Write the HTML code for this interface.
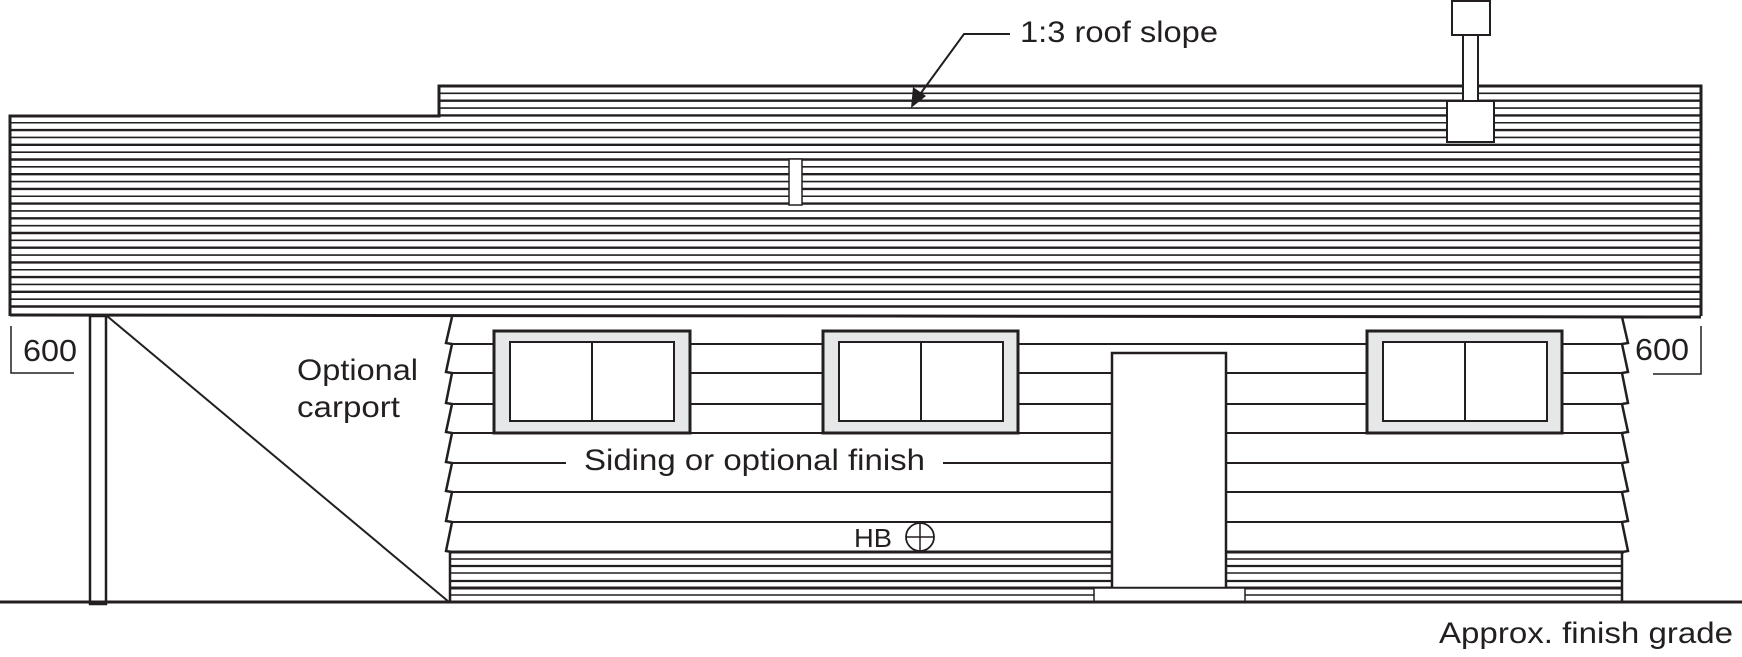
<!DOCTYPE html>
<html><head><meta charset="utf-8">
<style>
html,body{margin:0;padding:0;background:#fff;}
svg{display:block;}
text{font-family:"Liberation Sans",Arial,sans-serif;fill:#231f20;}
</style></head>
<body>
<svg width="1742" height="657" viewBox="0 0 1742 657" xmlns="http://www.w3.org/2000/svg">
<defs>
<clipPath id="roofclip"><polygon points="10,116 439,116 439,86 1701,86 1701,316 10,316"/></clipPath>
</defs>
<g clip-path="url(#roofclip)" stroke="#231f20">
<line x1="0" x2="1742" y1="86" y2="86" stroke-width="2.4"/>
<line x1="0" x2="1742" y1="93.35" y2="93.35" stroke-width="1.6"/>
<line x1="0" x2="1742" y1="100.7" y2="100.7" stroke-width="2.4"/>
<line x1="0" x2="1742" y1="108.05" y2="108.05" stroke-width="1.6"/>
<line x1="0" x2="1742" y1="115.4" y2="115.4" stroke-width="2.4"/>
<line x1="0" x2="1742" y1="122.75" y2="122.75" stroke-width="1.6"/>
<line x1="0" x2="1742" y1="130.1" y2="130.1" stroke-width="2.4"/>
<line x1="0" x2="1742" y1="137.45" y2="137.45" stroke-width="1.6"/>
<line x1="0" x2="1742" y1="144.8" y2="144.8" stroke-width="2.4"/>
<line x1="0" x2="1742" y1="152.15" y2="152.15" stroke-width="1.6"/>
<line x1="0" x2="1742" y1="159.5" y2="159.5" stroke-width="2.4"/>
<line x1="0" x2="1742" y1="166.85" y2="166.85" stroke-width="1.6"/>
<line x1="0" x2="1742" y1="174.2" y2="174.2" stroke-width="2.4"/>
<line x1="0" x2="1742" y1="181.55" y2="181.55" stroke-width="1.6"/>
<line x1="0" x2="1742" y1="188.9" y2="188.9" stroke-width="2.4"/>
<line x1="0" x2="1742" y1="196.25" y2="196.25" stroke-width="1.6"/>
<line x1="0" x2="1742" y1="203.6" y2="203.6" stroke-width="2.4"/>
<line x1="0" x2="1742" y1="210.95" y2="210.95" stroke-width="1.6"/>
<line x1="0" x2="1742" y1="218.3" y2="218.3" stroke-width="2.4"/>
<line x1="0" x2="1742" y1="225.65" y2="225.65" stroke-width="1.6"/>
<line x1="0" x2="1742" y1="233" y2="233" stroke-width="2.4"/>
<line x1="0" x2="1742" y1="240.35" y2="240.35" stroke-width="1.6"/>
<line x1="0" x2="1742" y1="247.7" y2="247.7" stroke-width="2.4"/>
<line x1="0" x2="1742" y1="255.05" y2="255.05" stroke-width="1.6"/>
<line x1="0" x2="1742" y1="262.4" y2="262.4" stroke-width="2.4"/>
<line x1="0" x2="1742" y1="269.75" y2="269.75" stroke-width="1.6"/>
<line x1="0" x2="1742" y1="277.1" y2="277.1" stroke-width="2.4"/>
<line x1="0" x2="1742" y1="284.45" y2="284.45" stroke-width="1.6"/>
<line x1="0" x2="1742" y1="291.8" y2="291.8" stroke-width="2.4"/>
<line x1="0" x2="1742" y1="299.15" y2="299.15" stroke-width="1.6"/>
<line x1="0" x2="1742" y1="306.5" y2="306.5" stroke-width="2.4"/>
</g>
<polyline points="10,316 10,116 439,116 439,86 1701,86 1701,316" fill="none" stroke="#231f20" stroke-width="3"/>
<line x1="10" y1="315" x2="1701" y2="317" stroke="#231f20" stroke-width="3"/>
<rect x="789" y="159" width="13" height="46" fill="#fff" stroke="#231f20" stroke-width="1.5"/>
<rect x="1452" y="1" width="38" height="34" fill="#fff" stroke="#231f20" stroke-width="2"/>
<rect x="1463" y="35" width="15" height="66" fill="#fff" stroke="#231f20" stroke-width="2"/>
<rect x="1447" y="101" width="47" height="41" fill="#fff" stroke="#231f20" stroke-width="2"/>
<polyline points="1010,34 964,34 918,97" fill="none" stroke="#231f20" stroke-width="2"/>
<polygon points="911,108 913,87 926,96" fill="#231f20"/>
<text x="1020" y="42" font-size="30" textLength="198" lengthAdjust="spacingAndGlyphs">1:3 roof slope</text>

<g stroke="#231f20" stroke-width="2">
<line x1="450" x2="1624" y1="344" y2="344"/>
<line x1="450" x2="1624" y1="373" y2="373"/>
<line x1="450" x2="1624" y1="404" y2="404"/>
<line x1="450" x2="1624" y1="433" y2="433"/>
<line x1="450" x2="566" y1="463" y2="463"/>
<line x1="943" x2="1624" y1="463" y2="463"/>
<line x1="450" x2="1624" y1="492" y2="492"/>
<line x1="450" x2="1624" y1="522" y2="522"/>
<line x1="450" x2="1624" y1="552" y2="552" stroke-width="3"/>
</g>
<g stroke="#231f20">
<line x1="450" x2="1622" y1="559" y2="559" stroke-width="1.5"/>
<line x1="450" x2="1622" y1="566" y2="566" stroke-width="2.2"/>
<line x1="450" x2="1622" y1="573" y2="573" stroke-width="1.5"/>
<line x1="450" x2="1622" y1="581" y2="581" stroke-width="2.2"/>
<line x1="450" x2="1622" y1="588" y2="588" stroke-width="3"/>
<line x1="450" x2="1622" y1="595" y2="595" stroke-width="1.5"/>
</g>
<polyline fill="none" stroke="#231f20" stroke-width="2.5" points="452,317 446,343 452,344 446,372 452,373 446,403 452,404 446,432 452,433 446,462 452,463 446,491 452,492 446,521 452,522 446,551 452,552 450,552 450,602"/>
<polyline fill="none" stroke="#231f20" stroke-width="2.5" points="1622,317 1628,343 1622,344 1628,372 1622,373 1628,403 1622,404 1628,432 1622,433 1628,462 1622,463 1628,491 1622,492 1628,521 1622,522 1628,551 1622,552 1622,602"/>

<g stroke="#231f20">
<rect x="494" y="331" width="196" height="102" fill="#e6e7e8" stroke-width="3"/>
<rect x="510" y="342" width="164" height="79" fill="#fff" stroke-width="2"/>
<line x1="592" y1="342" x2="592" y2="421" stroke-width="2"/>
<rect x="823" y="331" width="195" height="102" fill="#e6e7e8" stroke-width="3"/>
<rect x="839" y="342" width="164" height="79" fill="#fff" stroke-width="2"/>
<line x1="921" y1="342" x2="921" y2="421" stroke-width="2"/>
<rect x="1367" y="331" width="195" height="102" fill="#e6e7e8" stroke-width="3"/>
<rect x="1383" y="342" width="164" height="79" fill="#fff" stroke-width="2"/>
<line x1="1465" y1="342" x2="1465" y2="421" stroke-width="2"/>
<rect x="1112" y="353" width="114" height="235" fill="#fff" stroke-width="2.5"/>
<rect x="1094" y="588" width="151" height="14" fill="#fff" stroke-width="1.5"/>
<circle cx="920" cy="537" r="14" fill="#fff" stroke-width="1.8"/>
<line x1="906" y1="537" x2="934" y2="537" stroke-width="1.5"/>
<line x1="920" y1="523" x2="920" y2="551" stroke-width="1.5"/>
</g>
<text x="584" y="470" font-size="30" textLength="341" lengthAdjust="spacingAndGlyphs">Siding or optional finish</text>
<text x="854" y="547" font-size="26" textLength="38" lengthAdjust="spacingAndGlyphs">HB</text>

<rect x="90" y="316" width="16" height="288" fill="#fff" stroke="#231f20" stroke-width="2.5"/>
<line x1="107" y1="316" x2="449" y2="602" stroke="#231f20" stroke-width="2"/>
<text x="297" y="380" font-size="30" textLength="121" lengthAdjust="spacingAndGlyphs">Optional</text>
<text x="297" y="417" font-size="30" textLength="103" lengthAdjust="spacingAndGlyphs">carport</text>

<polyline points="11,326 11,373 74,373" fill="none" stroke="#231f20" stroke-width="1.5"/>
<text x="23" y="361" font-size="31" textLength="54" lengthAdjust="spacingAndGlyphs">600</text>
<polyline points="1701,326 1701,374 1653,374" fill="none" stroke="#231f20" stroke-width="1.5"/>
<text x="1635" y="360" font-size="31" textLength="54" lengthAdjust="spacingAndGlyphs">600</text>

<line x1="0" y1="602" x2="1742" y2="602" stroke="#231f20" stroke-width="3"/>
<text x="1733" y="643" font-size="30" text-anchor="end" textLength="294" lengthAdjust="spacingAndGlyphs">Approx. finish grade</text>
</svg>
</body></html>
